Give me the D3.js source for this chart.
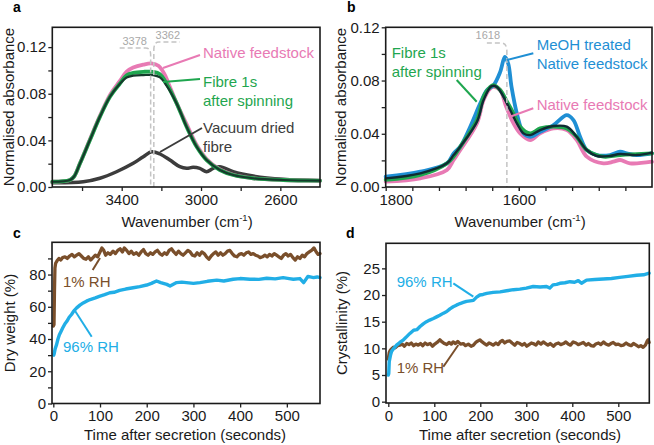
<!DOCTYPE html>
<html>
<head>
<meta charset="UTF-8">
<script src="https://cdn.jsdelivr.net/npm/d3@7"></script>
<style>
  body { margin: 0; background: #fff; }
  svg { font-family: Arial, "Liberation Sans", Helvetica, sans-serif; }
</style>
</head>
<body>
<svg width="654" height="445"></svg>
<script>
// ---- panel a : OH stretch region, [wavenumber, absorbance]
const aNative = [[3750,0.0045],[3661,0.006],[3640,0.009],[3610,0.0205],[3560,0.041],[3510,0.061],[3459,0.079],[3409,0.091],[3375,0.099],[3342,0.1025],[3291,0.105],[3250,0.106],[3215,0.104],[3185,0.097],[3150,0.083],[3115,0.069],[3073,0.054],[3022,0.036],[2972,0.024],[2905,0.015],[2838,0.0105],[2737,0.0075],[2586,0.006],[2400,0.0054]];
const aFibre = [[3750,0.0045],[3661,0.006],[3640,0.009],[3610,0.0203],[3560,0.0403],[3510,0.0602],[3459,0.0774],[3409,0.0888],[3375,0.0959],[3342,0.0979],[3291,0.0988],[3241,0.0988],[3207,0.0968],[3174,0.0888],[3123,0.0717],[3073,0.0517],[3022,0.0345],[2972,0.0231],[2905,0.0146],[2838,0.0103],[2737,0.0075],[2586,0.006],[2400,0.0054]];
const aDark = [[3750,0.0045],[3661,0.006],[3640,0.009],[3610,0.0203],[3560,0.0403],[3510,0.0602],[3459,0.0774],[3409,0.0885],[3375,0.094],[3342,0.0955],[3291,0.096],[3241,0.096],[3207,0.094],[3174,0.087],[3123,0.0717],[3073,0.0517],[3022,0.0345],[2972,0.0231],[2905,0.0146],[2838,0.0103],[2737,0.0075],[2586,0.006],[2400,0.0054]];
const aVacuum = [[3750,0.0037],[3594,0.0045],[3510,0.0075],[3426,0.0131],[3342,0.0203],[3291,0.026],[3249,0.0302],[3207,0.0283],[3157,0.0231],[3107,0.0174],[3073,0.016],[3040,0.0169],[3006,0.016],[2972,0.0131],[2939,0.016],[2905,0.0174],[2838,0.0131],[2737,0.0094],[2586,0.0066],[2400,0.0054]];
const aPeaks = [{label: "3378", at: 3254}, {label: "3362", at: 3238}];

// ---- panel b : amide I region
const bMeOH = [[1800,0.0077],[1748,0.0115],[1708,0.0178],[1698,0.0253],[1688,0.0303],[1673,0.0453],[1658,0.0628],[1648,0.0728],[1638,0.0765],[1628,0.0865],[1621,0.0977],[1616,0.0928],[1611,0.0752],[1603,0.0553],[1593,0.0403],[1583,0.0377],[1568,0.0415],[1548,0.0465],[1528,0.054],[1518,0.0503],[1508,0.0377],[1498,0.0278],[1483,0.024],[1463,0.024],[1448,0.0265],[1438,0.0253],[1423,0.024],[1400,0.0253]];
const bFibre = [[1800,0.0053],[1748,0.009],[1708,0.0178],[1698,0.0228],[1688,0.0303],[1663,0.0503],[1653,0.0678],[1643,0.0752],[1638,0.0765],[1628,0.0728],[1619,0.0653],[1608,0.0553],[1598,0.0453],[1583,0.0403],[1568,0.044],[1548,0.0453],[1528,0.044],[1513,0.0377],[1498,0.0278],[1473,0.0228],[1448,0.024],[1400,0.0253]];
const bNative = [[1800,0.004],[1748,0.0065],[1708,0.0128],[1698,0.0203],[1688,0.0278],[1663,0.0478],[1653,0.0653],[1643,0.074],[1638,0.0752],[1628,0.0728],[1619,0.0602],[1608,0.0478],[1598,0.0403],[1583,0.0353],[1568,0.0403],[1548,0.044],[1528,0.0428],[1513,0.0353],[1498,0.0228],[1473,0.0178],[1458,0.019],[1448,0.0203],[1433,0.0178],[1400,0.019]];
const bDark = [[1800,0.0065],[1748,0.0103],[1708,0.0178],[1698,0.024],[1688,0.0303],[1663,0.049],[1653,0.0653],[1641,0.0758],[1633,0.0752],[1623,0.0678],[1613,0.0578],[1603,0.0478],[1593,0.0403],[1583,0.039],[1568,0.0428],[1548,0.0458],[1528,0.0453],[1513,0.0377],[1498,0.0278],[1483,0.0233],[1463,0.0233],[1448,0.0248],[1423,0.024],[1400,0.0258]];
const bPeaks = [{label: "1618", at: 1618}];

// ---- panel c : dry weight (%) vs time (s)
const cDry = [[0,48],[1.5,49],[2.5,70],[3.5,84],[5,87],[8,88.5],[12,90],[16,89],[20,90.5],[25,91],[30,90],[35,91.5],[40,92.5],[45,91],[50,92],[55,93],[60,91.5],[65,90],[70,89.5],[75,91],[80,89],[85,90.5],[90,92],[95,91],[100,94],[104,96.5],[108,95],[112,92],[117,93.5],[122,92.5],[128,94.5],[133,93],[138,95],[143,96],[148,94],[152,96.5],[157,95],[162,93],[167,94.5],[172,92.5],[178,93.5],[183,92],[188,94],[193,95.5],[198,93],[203,92],[208,93.5],[213,92.5],[218,94],[223,95],[228,93],[233,92],[238,93.5],[243,92.5],[248,95],[253,96],[258,94],[263,92.5],[268,94.5],[273,93],[278,92],[283,93.5],[288,95],[293,94],[298,92],[303,91.5],[308,93.5],[313,92],[318,94],[323,93],[328,91],[333,89.5],[338,91.5],[343,93],[348,94],[353,92],[358,93.5],[363,92],[368,93],[373,94.5],[378,95],[383,93],[388,91.5],[393,91],[398,92.5],[403,93],[408,92],[413,93.5],[418,94],[423,92.5],[428,93],[433,92],[438,91.5],[443,90.5],[448,91],[453,92],[458,91],[463,92.5],[468,91.5],[473,93],[478,92],[483,91],[488,90],[493,92],[498,93],[503,91.5],[508,92.5],[513,90.5],[518,89],[523,91],[528,90],[533,92],[538,91],[543,93],[548,94],[553,95],[558,96.5],[563,94],[567,92.5],[571,93]];
const cWet = [[1,30],[2,31],[4,34],[7,36.5],[10,40],[13,42.7],[17,45],[20,46.8],[25,49.5],[29,51],[34,53.5],[39,55.2],[44,57.5],[50,59.3],[57,61],[64,62.4],[71,63.5],[79,64.5],[90,65.5],[100,66.6],[110,67.5],[121,68.7],[130,69],[142,70.2],[155,71],[171,71.8],[185,72.5],[200,73.5],[210,74.5],[221,76],[230,75],[243,73.9],[250,72.9],[257,74],[264,75],[275,75.3],[285,75],[300,74.5],[314,75],[330,75.8],[350,76.5],[365,76],[385,77.1],[400,77.5],[421,77.1],[440,77],[457,77.7],[475,77.3],[492,78.1],[505,77.5],[514,77.1],[528,77.5],[536,75],[545,78.8],[550,78.5],[557,78.1],[565,78.5],[571,78.1]];

// ---- panel d : crystallinity (%) vs time (s)
const dWet = [[0,5],[1,5.3],[2,7.5],[5,8.8],[7,9.4],[12,10],[18,10.6],[25,11.1],[33,11.6],[40,12.2],[47,12.8],[55,13.4],[62,13.5],[69,14.1],[76,14.6],[83,15],[90,15.3],[98,15.6],[105,15.9],[112,16.2],[120,16.6],[127,16.9],[134,17.4],[141,17.8],[148,18.1],[156,18.4],[163,18.6],[170,18.8],[178,18.9],[185,19],[192,19.6],[199,20],[206,20.1],[214,20.3],[221,20.4],[228,20.5],[243,20.6],[257,20.8],[272,21],[286,21.1],[300,21.3],[315,21.6],[330,21.5],[344,21.6],[351,21.3],[358,21.9],[366,22],[373,22.2],[384,22.3],[395,22.5],[405,22.4],[413,22.7],[420,22.2],[431,22.8],[449,22.9],[467,23],[485,23.1],[503,23.3],[521,23.5],[540,23.7],[555,23.8],[567,24.1]];
const dDry = [[0,8],[1,8.6],[2,9.2],[4,9.6],[7,9.9],[11,10.2],[15,10.1],[20,10.5],[25,10.6],[30,10.8],[35,10.4],[40,10.9],[45,10.7],[50,11],[55,10.5],[60,10.8],[65,10.6],[70,10.9],[75,10.5],[80,11],[85,10.7],[91,10.9],[96,10.4],[101,10.8],[106,11.1],[112,11.6],[117,11.2],[122,10.9],[127,10.7],[132,11.1],[137,10.8],[141,11.2],[146,10.9],[151,11.3],[157,10.8],[163,10.9],[168,10.5],[174,10.8],[180,10.4],[185,10.6],[190,11.1],[195,11.4],[199,11.6],[204,11.2],[209,10.9],[214,10.6],[219,11],[224,10.8],[228,10.6],[234,11],[239,10.7],[243,11.2],[248,11.5],[253,11],[258,11.3],[264,11.4],[269,11],[275,10.6],[280,11.1],[286,10.9],[291,10.6],[296,10.9],[301,10.4],[306,10.7],[311,11],[315,10.9],[321,10.6],[326,11.2],[332,10.8],[337,11.2],[342,10.9],[347,10.6],[352,10.9],[359,10.4],[364,10.8],[370,11],[375,10.7],[381,10.9],[386,11.2],[391,10.8],[396,10.6],[402,11.2],[408,11],[413,10.7],[419,10.9],[424,11.1],[430,10.6],[435,10.9],[441,10.5],[446,10.4],[451,10.8],[457,11],[462,10.7],[468,11.2],[473,10.8],[479,10.6],[484,10.9],[489,11.1],[495,10.7],[500,10.8],[506,10.5],[511,10.6],[517,11],[522,10.7],[528,10.5],[533,10.9],[539,10.6],[544,10.3],[549,10.5],[554,10.2],[559,10.6],[563,11.4],[565,11.6],[567,11.1]];

// tick values
const specYTicks = [0, 0.04, 0.08, 0.12];
const aXTicks = [3400, 3000, 2600];
const bXTicks = [1800, 1600];
const timeTicks = [0, 100, 200, 300, 400, 500];
const cYTicks = [0, 20, 40, 60, 80];
const dYTicks = [0, 5, 10, 15, 20, 25];

const PINK = "#e87ab4", GREEN = "#1fa64f", DARKG = "#153a2b", GREY = "#3c3c3c";
const BBLUE = "#1f8fd4", NAVY = "#0f2b33", CBLUE = "#21aee6", BROWN = "#7a4f2b";
const DASH = "#c4c4c4";
const FS = 15;

const svg = d3.select("svg");

function makePanel(box, xDomain, yDomain) {
  const x = d3.scaleLinear().domain(xDomain).range([box.l, box.r]);
  const y = d3.scaleLinear().domain(yDomain).range([box.b, box.t]);
  return {box, x, y, g: svg.append("g")};
}

function axes(p, o) {
  const g = p.g;
  const xa = g.append("g").attr("transform", `translate(0,${p.box.b})`)
    .call(d3.axisBottom(p.x).tickValues(o.xTicks).tickSize(4).tickPadding(3).tickFormat(o.xFmt || d3.format("d")));
  const ya = g.append("g").attr("transform", `translate(${p.box.l},0)`)
    .call(d3.axisLeft(p.y).tickValues(o.yTicks).tickSize(4).tickPadding(2).tickFormat(o.yFmt || d3.format("d")));
  if (o.xMinor) g.append("g").attr("transform", `translate(0,${p.box.b})`)
    .call(d3.axisBottom(p.x).tickValues(o.xMinor).tickSize(4).tickFormat(""));
  if (o.yMinor) g.append("g").attr("transform", `translate(${p.box.l},0)`)
    .call(d3.axisLeft(p.y).tickValues(o.yMinor).tickSize(4).tickFormat(""));
  g.selectAll(".domain").remove();
  g.selectAll(".tick line").attr("stroke", "#222").attr("stroke-width", 1.3);
  [xa, ya].forEach(a => a.attr("font-family", null).attr("font-size", FS)
    .selectAll("text").attr("fill", "#1a1a1a"));
  return {xa, ya};
}

function frame(p) {
  p.g.append("rect")
    .attr("x", p.box.l).attr("y", p.box.t)
    .attr("width", p.box.r - p.box.l).attr("height", p.box.b - p.box.t)
    .attr("fill", "none").attr("stroke", "#1a1a1a").attr("stroke-width", 1.6);
}

function curve(p, data, color, w, c) {
  p.g.append("path").datum(data)
    .attr("fill", "none").attr("stroke", color).attr("stroke-width", w)
    .attr("stroke-linejoin", "round").attr("stroke-linecap", "round")
    .attr("d", d3.line().x(d => p.x(d[0])).y(d => p.y(d[1])).curve(c || d3.curveLinear));
}

function label(lines, x, y, color, leader) {
  const t = svg.append("text").attr("x", x).attr("y", y)
    .attr("fill", color).attr("font-size", FS);
  lines.forEach((s, i) => t.append("tspan").attr("x", x).attr("dy", i ? 18.5 : 0).text(s));
  if (leader) svg.append("line")
    .attr("x1", leader[0]).attr("y1", leader[1]).attr("x2", leader[2]).attr("y2", leader[3])
    .attr("stroke", color).attr("stroke-width", 2);
}

function title(txt, x, y, rotate, sup) {
  const t = svg.append("text").attr("text-anchor", "middle").attr("font-size", 15).attr("fill", "#1a1a1a")
    .attr("transform", rotate ? `translate(${x},${y}) rotate(-90)` : `translate(${x},${y})`);
  t.append("tspan").text(txt);
  if (sup) {
    t.append("tspan").attr("font-size", 9.5).attr("dy", -6).text(sup);
    t.append("tspan").attr("dy", 6).text(")");
  }
}

function letter(s, x, y) {
  svg.append("text").attr("x", x).attr("y", y).attr("font-weight", "bold").attr("font-size", 14).text(s);
}

const smooth = d3.curveCatmullRom.alpha(0.5);

// ================= panel a
const pa = makePanel({l: 52.3, r: 320, t: 27.3, b: 187}, [3750, 2400], [0, 0.137]);
curve(pa, aVacuum, GREY, 3.5, smooth);
curve(pa, aNative, PINK, 3.8, smooth);
curve(pa, aFibre, GREEN, 3.8, smooth);
curve(pa, aDark, DARKG, 2.2, smooth);
// peak markers
aPeaks.forEach((pk, i) => {
  const x = pa.x(pk.at), b = pa.box.b;
  const path = i === 0
    ? `M${x - 31},48 H${x - 5} Q${x},48 ${x},55 V${b}`
    : `M${x},${b} V50 Q${x},42 ${x + 5},42 H${x + 26}`;
  pa.g.append("path").attr("d", path).attr("fill", "none")
    .attr("stroke", DASH).attr("stroke-width", 1.5).attr("stroke-dasharray", "5,3");
  pa.g.append("text").attr("x", i === 0 ? x - 16 : x + 14).attr("y", i === 0 ? 45 : 39)
    .attr("text-anchor", "middle").attr("font-size", 11).attr("fill", "#a8a8a8").text(pk.label);
});
frame(pa);
axes(pa, {xTicks: aXTicks, xMinor: [3600, 3200, 2800], yTicks: specYTicks, yMinor: [0.02, 0.06, 0.10], yFmt: d3.format(".2f")});
label(["Native feedstock"], 203, 58, PINK, [163, 68, 200, 55]);
label(["Fibre 1s", "after spinning"], 203, 87, GREEN, [163, 82, 200, 79]);
label(["Vacuum dried", "fibre"], 203, 133, GREY, [160, 152, 202, 128]);
title("Normalised absorbance", 14, 107, true);
title("Wavenumber (cm", 187, 227, false, "-1");
letter("a", 13, 12);

// ================= panel b
const pb = makePanel({l: 385.7, r: 652, t: 27.3, b: 187}, [1800, 1400], [0, 0.12]);
curve(pb, bNative, PINK, 3.8, smooth);
curve(pb, bMeOH, BBLUE, 3.8, smooth);
curve(pb, bFibre, GREEN, 3.8, smooth);
curve(pb, bDark, NAVY, 2.4, smooth);
bPeaks.forEach(pk => {
  const x = pb.x(pk.at), b = pb.box.b;
  pb.g.append("path").attr("d", `M${x - 20},43 H${x - 6} Q${x},43 ${x},51 V${b}`)
    .attr("fill", "none").attr("stroke", DASH).attr("stroke-width", 1.5).attr("stroke-dasharray", "5,3");
  pb.g.append("text").attr("x", x - 19).attr("y", 39).attr("text-anchor", "middle")
    .attr("font-size", 11).attr("fill", "#a8a8a8").text(pk.label);
});
frame(pb);
const bAx = axes(pb, {xTicks: bXTicks, xMinor: d3.range(1760, 1400, -40), yTicks: specYTicks,
  yMinor: [0.02, 0.06, 0.10], yFmt: d3.format(".2f")});
bAx.xa.selectAll(".tick text").filter(d => d === 1800).attr("dx", 10);
label(["Fibre 1s", "after spinning"], 391.7, 58, GREEN, [476.7, 101.7, 456.7, 80]);
label(["MeOH treated", "Native feedstock"], 536.7, 50, BBLUE, [506.7, 60, 533.3, 53.3]);
label(["Native feedstock"], 536.7, 110, PINK, [510, 116.7, 533.3, 108.3]);
title("Normalised absorbance", 346, 107, true);
title("Wavenumber (cm", 520, 227, false, "-1");
letter("b", 347, 12);

// ================= panel c
const pc = makePanel({l: 52, r: 320, t: 242.3, b: 403.5}, [-2.8, 571], [0, 100]);
curve(pc, cDry, BROWN, 3.3);
curve(pc, cWet, CBLUE, 3.4);
frame(pc);
axes(pc, {xTicks: timeTicks, yTicks: cYTicks, yMinor: [10, 30, 50, 70, 90]});
label(["1% RH"], 63, 287, BROWN, [100, 258, 92.7, 270]);
label(["96% RH"], 63, 352, CBLUE, [74, 309.3, 91.7, 336.7]);
title("Dry weight (%)", 15, 323, true);
title("Time after secretion (seconds)", 185, 440);
letter("c", 13, 238);

// ================= panel d
const pd = makePanel({l: 386, r: 649.3, t: 243.3, b: 403}, [-5, 567.4], [-0.25, 29.7]);
curve(pd, dDry, BROWN, 3.3);
curve(pd, dWet, CBLUE, 3.4);
frame(pd);
axes(pd, {xTicks: timeTicks, yTicks: dYTicks});
label(["96% RH"], 396.7, 287, CBLUE, [453.3, 283.3, 473.3, 296.7]);
label(["1% RH"], 396.7, 373, BROWN, [443.3, 366.7, 458.3, 345]);
title("Crystallinity (%)", 347, 323, true);
title("Time after secretion (seconds)", 520, 440);
letter("d", 346, 238);
</script>
</body>
</html>
